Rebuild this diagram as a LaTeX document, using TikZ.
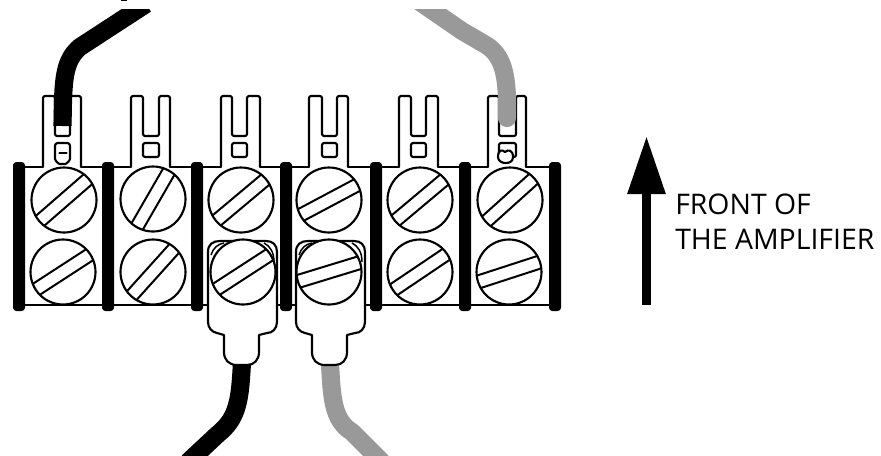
\documentclass[tikz,border=0pt]{standalone}
\usepackage{fontspec}
\setmainfont{Open Sans}
\usetikzlibrary{arrows.meta}
\tikzset{
  outline/.style={line width=1.6pt,line join=round,line cap=round,draw=black},
  slotline/.style={line width=1.5pt,line cap=butt,draw=black},
  wireblack/.style={line width=13.6pt,draw=black,line cap=butt,line join=round},
  wiregray/.style={line width=13.6pt,draw=wiregrey,line cap=butt,line join=round},
  barfill/.style={fill=black,rounded corners=2.5pt},
  caption/.style={anchor=base west,inner sep=0pt,font=\fontsize{21.3pt}{24pt}\selectfont}
}
\definecolor{wiregrey}{HTML}{999999}
\newcommand{\myscrew}[4]{%
  \begin{scope}[shift={(#1,#2)}]
    \draw[outline,fill=white] (0,0) circle[radius=#4];
    \begin{scope}[rotate=#3]
      \pgfmathsetmacro{\chord}{sqrt(#4*#4-42.25)}
      \draw[slotline] (-\chord,6.5) -- (\chord,6.5);
      \draw[slotline] (-\chord,-6.5) -- (\chord,-6.5);
    \end{scope}
  \end{scope}}
\newcommand{\mylug}[4]{%
  \fill[white] (#1,168) rectangle (#4,96);
  \draw[outline,rounded corners=1.5pt] (#1,167) -- (#1,96) -- (#2,96) -- (#2,136) -- (#3,136) -- (#3,96) -- (#4,96) -- (#4,167);}
\newcommand{\myspade}[1]{%
  \begin{scope}[xshift=#1*0.75pt]
    \draw[outline,fill=white] (208,252) .. controls (208,244) and (213,241) .. (220,241)
      -- (266,241) .. controls (273,241) and (277,245) .. (277,252)
      -- (277,322) .. controls (277,329) and (272,333) .. (267,333)
      -- (259,335) -- (259,352) .. controls (259,360) and (254,365) .. (247,365)
      -- (237,365) .. controls (229,365) and (224,360) .. (224,352)
      -- (224,335) -- (217,333) .. controls (212,332) and (208,328) .. (208,322) -- cycle;
    \draw[line width=1.1pt] (211,255) .. controls (213,248) and (218,244) .. (224,243);
    \draw[line width=1.1pt] (264,243) .. controls (270,246) and (274,252) .. (274,262);
  \end{scope}}
\begin{document}
\begin{tikzpicture}[x=0.75pt,y=-0.75pt]
\useasboundingbox (0,0) rectangle (881,455);
\fill[white] (0,0) rectangle (881,455);
% strip body outline
\foreach \a/\b in {19/43,81/131,170/221,260/309,348/399,438/488,526/555}
  \draw[outline] (\a,167) -- (\b,167);
\foreach \a/\b in {19/208,277/296,364/555}
  \draw[outline] (\a,305) -- (\b,305);
% separators
\foreach \c in {19,108,197,286,376,465,555}
  \fill[barfill] (\c-6,162) rectangle (\c+6,311);
% forked lugs
\mylug{43}{55}{70}{81}
\mylug{131}{143}{159}{170}
\mylug{221}{232}{247}{260}
\mylug{309}{322}{337}{348}
\mylug{399}{411}{426}{438}
\mylug{488}{499}{516}{526}
% lug holes
\foreach \x/\w in {143/16,232/15,322/15,411/15}
  \draw[outline,rounded corners=1.5pt] (\x,143) rectangle ++(\w,14);
% lug 1 closed slot and hole
\draw[outline,fill=white,rounded corners=2pt] (55,143) -- (70,143) -- (70,156) .. controls (70,161) and (66,164) .. (62.5,164) .. controls (59,164) and (55,161) .. (55,156) -- cycle;
\draw[outline] (59.5,153) -- (66.5,153);
% lug 6 hole
\draw[outline,rounded corners=1.5pt] (499,143) -- (516,143) -- (516,157) -- (499,157) -- cycle;
\draw[outline,fill=white] (498,157) .. controls (498,150) and (502,149) .. (505,152) .. controls (508,149) and (513,150) .. (513,157) .. controls (513,162) and (509,163) .. (505.5,163) .. controls (502,163) and (498,161) .. (498,157) -- cycle;
% wires
\begin{scope}
\clip (0,9) rectangle (881,455);
\coordinate (wa0) at (62.5,126);
\draw[wireblack] (wa0) -- (63,100) .. controls (64,72) and (67,58) .. (80,47) -- (146,4);
\draw[wiregray,line cap=round] (507,118) -- (507,98) .. controls (506,72) and (502,55) .. (486,45) -- (462,31) -- (420,2);
\draw[wireblack] (242,362) .. controls (240,400) and (238,418) .. (218,434) -- (188,462);
\draw[wiregray] (330,365) .. controls (332,395) and (332,420) .. (352,432) -- (382,462);
\end{scope}
\fill[black] (121,0) rectangle (127,1);
% ring terminals
\myspade{0}
\myspade{88}
% top row of screws
\myscrew{64}{200}{41}{32.5}
\myscrew{153}{199}{60}{32.5}
\myscrew{241}{200}{40}{32.5}
\myscrew{329}{200}{28}{32.5}
\myscrew{420}{200}{40}{32.5}
\myscrew{510}{200}{42}{32.5}
% bottom row of screws
\myscrew{63}{272}{33}{32.5}
\myscrew{153}{272}{48}{32.5}
\myscrew{243}{272}{33}{32.5}
\myscrew{329}{272}{17}{32.5}
\myscrew{420}{272}{34}{32.5}
\myscrew{509}{272}{18}{32.5}
% arrow
\coordinate (foot) at (646.5,305);
\coordinate (tip) at (646.5,136);
\draw[line width=6.75pt,-{Triangle[length=43.5pt,width=27pt]}] (foot) -- (tip);
\node[caption] (l1) at (675,214) {FRONT OF};
\node[caption] (l2) at (675,249) {THE AMPLIFIER};
\end{tikzpicture}
\end{document}
